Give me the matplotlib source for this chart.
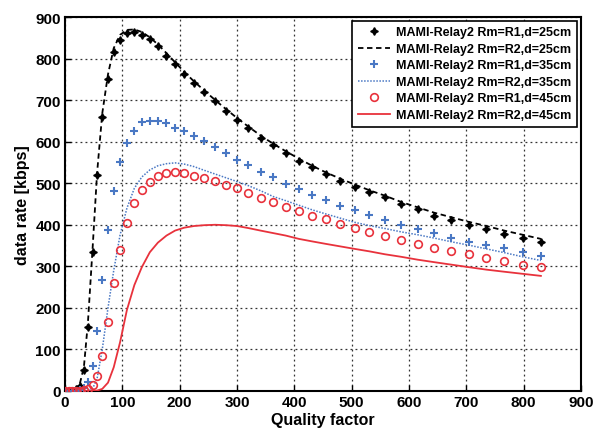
import matplotlib
matplotlib.use("Agg")
import matplotlib.pyplot as plt

plt.rcParams['font.family'] = ['Liberation Sans', 'DejaVu Sans']

# Quality factor sample points (shared by all series)
q = [0, 7, 13, 20, 26, 33, 40, 48, 56, 65, 75, 85, 96, 108, 121, 134, 148, 162,
     177, 192, 208, 225, 243, 262, 281, 300, 320, 341, 363, 385, 408, 431, 455,
     480, 505, 531, 558, 586, 615, 644, 674, 704, 735, 766, 798, 830]

# Rm=R1, d=25cm (markers)
r1_25 = [0, 0, 1, 4, 13, 50, 155, 335, 520, 660, 752, 815, 845, 861, 863, 857,
         847, 831, 807, 787, 764, 740, 719, 697, 674, 651, 632, 610, 592, 573,
         554, 538, 522, 506, 492, 478, 466, 450, 437, 422, 411, 399, 390, 378,
         368, 358]
# Rm=R2, d=25cm (dashed line)
r2_25 = [0, 0, 2, 6, 18, 58, 165, 340, 525, 668, 762, 825, 857, 869, 870, 864,
         851, 834, 813, 791, 768, 745, 723, 700, 678, 657, 636, 615, 595, 577,
         559, 542, 526, 511, 497, 483, 470, 455, 442, 429, 418, 407, 397, 386,
         376, 366]
# Rm=R1, d=35cm (markers)
r1_35 = [0, 0, 0, 0, 2, 8, 22, 61, 145, 267, 387, 482, 550, 597, 625, 647, 649,
         649, 644, 634, 625, 614, 601, 586, 572, 557, 544, 527, 514, 499, 486,
         471, 460, 445, 436, 423, 412, 400, 389, 379, 367, 359, 351, 343, 334,
         324]
# Rm=R2, d=35cm (dotted line)
r2_35 = [0, 0, 0, 0, 0, 0, 0, 5, 30, 100, 200, 290, 375, 440, 488, 515, 532,
         542, 547, 549, 546, 540, 531, 522, 513, 504, 494, 482, 468, 458, 447,
         436, 426, 416, 406, 398, 391, 383, 376, 368, 359, 351, 342, 333, 323,
         314]
# Rm=R1, d=45cm (markers)
r1_45 = [0, 0, 0, 0, 0, 2, 5, 14, 35, 85, 165, 260, 340, 405, 452, 484, 504,
         518, 525, 527, 524, 518, 513, 505, 496, 488, 477, 464, 454, 443, 434,
         422, 413, 402, 393, 382, 372, 364, 354, 344, 338, 330, 320, 312, 304,
         299]
# Rm=R2, d=45cm (solid line)
r2_45 = [0, 0, 0, 0, 0, 0, 0, 0, 1, 5, 20, 57, 117, 195, 255, 298, 334, 357,
         374, 386, 393, 397, 399, 400, 399, 397, 392, 386, 380, 374, 366, 360,
         354, 348, 342, 336, 329, 323, 316, 310, 304, 298, 292, 287, 282, 277]

labels = ["MAMI-Relay2 Rm=R1,d=25cm", "MAMI-Relay2 Rm=R2,d=25cm",
          "MAMI-Relay2 Rm=R1,d=35cm", "MAMI-Relay2 Rm=R2,d=35cm",
          "MAMI-Relay2 Rm=R1,d=45cm", "MAMI-Relay2 Rm=R2,d=45cm"]

xticks = [0, 100, 200, 300, 400, 500, 600, 700, 800, 900]
yticks = [0, 100, 200, 300, 400, 500, 600, 700, 800, 900]

blue = '#4a78c4'
red = '#e8323c'

fig = plt.figure(figsize=(5.99, 4.35), dpi=100)
ax = fig.add_axes([0.1085, 0.0989, 0.8615, 0.8597])

ax.plot(q, r1_25, linestyle='none', marker=(4, 1, 0), markersize=5.5,
        color='black', label=labels[0], zorder=4)
ax.plot(q, r2_25, linestyle=(0, (3, 2)), color='black', linewidth=1.3,
        label=labels[1], zorder=3)
ax.plot(q, r1_35, linestyle='none', marker='+', markersize=6,
        markeredgewidth=1.5, color=blue, label=labels[2], zorder=4)
ax.plot(q, r2_35, linestyle=(0, (1, 1)), color=blue, linewidth=1.1,
        label=labels[3], zorder=3)
ax.plot(q, r1_45, linestyle='none', marker='o', markersize=5.5,
        markerfacecolor='none', markeredgecolor=red, markeredgewidth=1.2,
        label=labels[4], zorder=4)
ax.plot(q, r2_45, linestyle='-', color=red, linewidth=1.3,
        label=labels[5], zorder=3)

ax.set_xlim(0, 900)
ax.set_ylim(0, 900)
ax.set_xticks(xticks)
ax.set_yticks(yticks)
ax.tick_params(direction='in', length=4, width=1, labelsize=11, pad=3)
for t in ax.get_xticklabels() + ax.get_yticklabels():
    t.set_fontweight('bold')
ax.grid(True, color='#333333', linestyle=(0, (1.5, 2.5)), linewidth=0.9)
for s in ax.spines.values():
    s.set_linewidth(1.5)

ax.set_xlabel('Quality factor', fontsize=11.5, fontweight='bold', labelpad=2)
ax.set_ylabel('data rate [kbps]', fontsize=11.5, fontweight='bold', labelpad=4)

leg = ax.legend(loc='upper right', frameon=True, fancybox=False,
                edgecolor='black', framealpha=1, handlelength=2.6,
                handletextpad=0.5, borderpad=0.45, labelspacing=0.36,
                borderaxespad=0.3, prop={'weight': 'bold', 'size': 9})
leg.get_frame().set_linewidth(1.2)

fig.savefig('out.png', dpi=100)
